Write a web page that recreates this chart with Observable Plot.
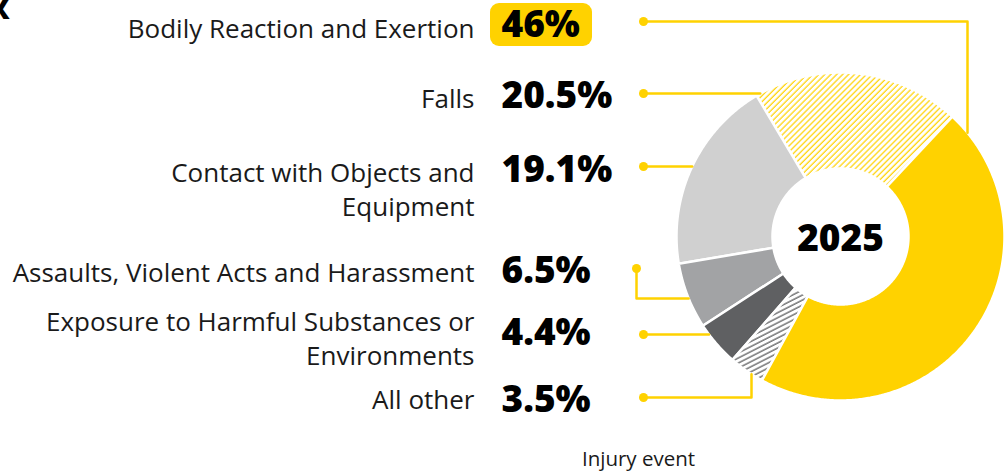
<!DOCTYPE html>
<html><head><meta charset="utf-8">
<script src="https://cdn.jsdelivr.net/npm/d3@7"></script>
<script src="https://cdn.jsdelivr.net/npm/@observablehq/plot@0.6"></script>
<style>body{margin:0;background:#fff;overflow:hidden}</style>
</head><body><div id="chart"></div>
<script>
// ---------- data ----------
const categories = ["Bodily Reaction and Exertion", "Falls", "Contact with Objects and Equipment",
  "Assaults, Violent Acts and Harassment", "Exposure to Harmful Substances or Environments", "All other"];
const labelText = ["Bodily Reaction and Exertion", "Falls", "Contact with Objects and\nEquipment",
  "Assaults, Violent Acts and Harassment", "Exposure to Harmful Substances or\nEnvironments", "All other"];
const shares = [46, 20.5, 19.1, 6.5, 4.4, 3.5];
const shareLabels = ["46%", "20.5%", "19.1%", "6.5%", "4.4%", "3.5%"];
const centerLabel = "2025";
const caption = "Injury event";
const cornerGlyph = "X";

// ---------- styles ----------
const YELLOW = "#FFD200";
const sliceFill = ["#FFD200", "url(#hatch-yellow)", "#D0D0D0", "#A2A3A5", "#5F6062", "url(#hatch-gray)"];
// drawing order around the ring (counter-clockwise from the start angle)
const ringOrder = [1, 2, 3, 4, 5, 0];

// ---------- layout ----------
const W = 1008, H = 473;
const cx = 840, cy = 236, R = 164, r0 = 68;
const startDeg = 403;              // degrees clockwise from 12 o'clock
const labelX = 474, pctX = 501;
const labelY = [27, 97, 188, 271, 337, 398];
const pctY = [25, 96, 170, 271, 333, 400];
const dots = [[643, 21], [643, 93], [643, 166], [636, 268], [643, 334], [643, 397]];
const bends = [[967, 21], null, null, [636, 298], null, [751, 397]];

// ---------- geometry from data ----------
const pt = (deg, rad) => {
  const a = deg * Math.PI / 180;
  return [cx + rad * Math.sin(a), cy - rad * Math.cos(a)];
};
const ring = [];
let cum = startDeg;
for (const i of ringOrder) {
  const a1 = cum, a0 = cum - shares[i] * 3.6;
  cum = a0;
  const n = Math.max(4, Math.ceil((a1 - a0) * 2));
  const pts = [];
  for (let k = 0; k <= n; k++) pts.push(pt(a0 + (a1 - a0) * k / n, R));
  for (let k = n; k >= 0; k--) pts.push(pt(a0 + (a1 - a0) * k / n, r0));
  for (const [x, y] of pts) ring.push({cat: categories[i], fill: sliceFill[i], x, y});
}

// leader lines: dot -> optional bend -> outer edge of ring
const leaders = [];
dots.forEach((d, i) => {
  const pts = [d];
  const b = bends[i];
  let end;
  if (!b) {
    end = [cx - Math.sqrt(R * R - (d[1] - cy) ** 2), d[1]];
  } else if (b[1] === d[1]) {
    pts.push(b);
    const dy = Math.sqrt(R * R - (b[0] - cx) ** 2);
    end = [b[0], b[1] < cy ? cy - dy : cy + dy];
  } else {
    pts.push(b);
    end = [cx - Math.sqrt(R * R - (b[1] - cy) ** 2), b[1]];
  }
  pts.push(end);
  pts.forEach(([x, y]) => leaders.push({cat: categories[i], x, y}));
});

const rows = categories.map((c, i) => ({cat: c, label: labelText[i], pct: shareLabels[i], share: shares[i],
  ly: labelY[i], py: pctY[i], dx: dots[i][0], dy: dots[i][1]}));
const maxShare = d3.max(shares);

// pattern defs
function defs() {
  const g = d3.create("svg:defs");
  const p1 = g.append("pattern").attr("id", "hatch-yellow").attr("patternUnits", "userSpaceOnUse")
    .attr("width", 4.2).attr("height", 10).attr("patternTransform", "rotate(45)");
  p1.append("rect").attr("width", 4.2).attr("height", 10).attr("fill", "white");
  p1.append("line").attr("x1", 1).attr("x2", 1).attr("y1", 0).attr("y2", 10)
    .attr("stroke", YELLOW).attr("stroke-width", 1.2);
  const p2 = g.append("pattern").attr("id", "hatch-gray").attr("patternUnits", "userSpaceOnUse")
    .attr("width", 10).attr("height", 4.5).attr("patternTransform", "rotate(-27)");
  p2.append("rect").attr("width", 10).attr("height", 4.5).attr("fill", "white");
  p2.append("line").attr("x1", 0).attr("x2", 10).attr("y1", 1).attr("y2", 1)
    .attr("stroke", "#5F6062").attr("stroke-width", 1.3);
  return g.node();
}

const font = "'Open Sans', 'Noto Sans', sans-serif";
const chart = Plot.plot({
  width: W, height: H,
  margin: 0,
  x: {domain: [0, W], range: [0, W], axis: null},
  y: {domain: [0, H], range: [0, H], axis: null},
  color: {type: "identity"},
  marks: [
    defs,
    Plot.line(ring, {x: "x", y: "y", z: "cat", fill: "fill", stroke: "white", strokeWidth: 2.5, curve: "linear-closed"}),
    Plot.line(leaders, {x: "x", y: "y", z: "cat", stroke: YELLOW, strokeWidth: 2.5}),
    Plot.dot(rows, {x: "dx", y: "dy", r: 4.5, fill: YELLOW}),
    Plot.rect(rows.filter(d => d.share === maxShare), {
      x1: d => pctX - 11, x2: d => pctX + 91, y1: d => d.py - 22, y2: d => d.py + 21,
      fill: YELLOW, rx: 9
    }),
    Plot.text(rows, {x: labelX, y: "ly", text: "label", textAnchor: "end", lineAnchor: "middle",
      fontFamily: font, fontSize: 26, fill: "#1a1a1a", lineHeight: 1.3}),
    Plot.text(rows, {x: pctX, y: "py", text: "pct", textAnchor: "start", lineAnchor: "middle",
      fontFamily: font, fontSize: 37, fontWeight: 800, fill: "#000"}),
    Plot.text([centerLabel], {x: cx, y: cy + 3, text: d => d, textAnchor: "middle", lineAnchor: "middle",
      fontFamily: font, fontSize: 37, fontWeight: 800, fill: "#000"}),
    Plot.text([caption], {x: 638, y: 459, text: d => d, textAnchor: "middle", lineAnchor: "middle",
      fontFamily: font, fontSize: 20.5, fill: "#1a1a1a"}),
    Plot.text([cornerGlyph], {x: -1, y: 10, text: d => d, textAnchor: "middle", lineAnchor: "middle",
      fontFamily: font, fontSize: 28, fontWeight: 800, fill: "#000"})
  ]
});
document.getElementById("chart").append(chart);
</script>
</body></html>
